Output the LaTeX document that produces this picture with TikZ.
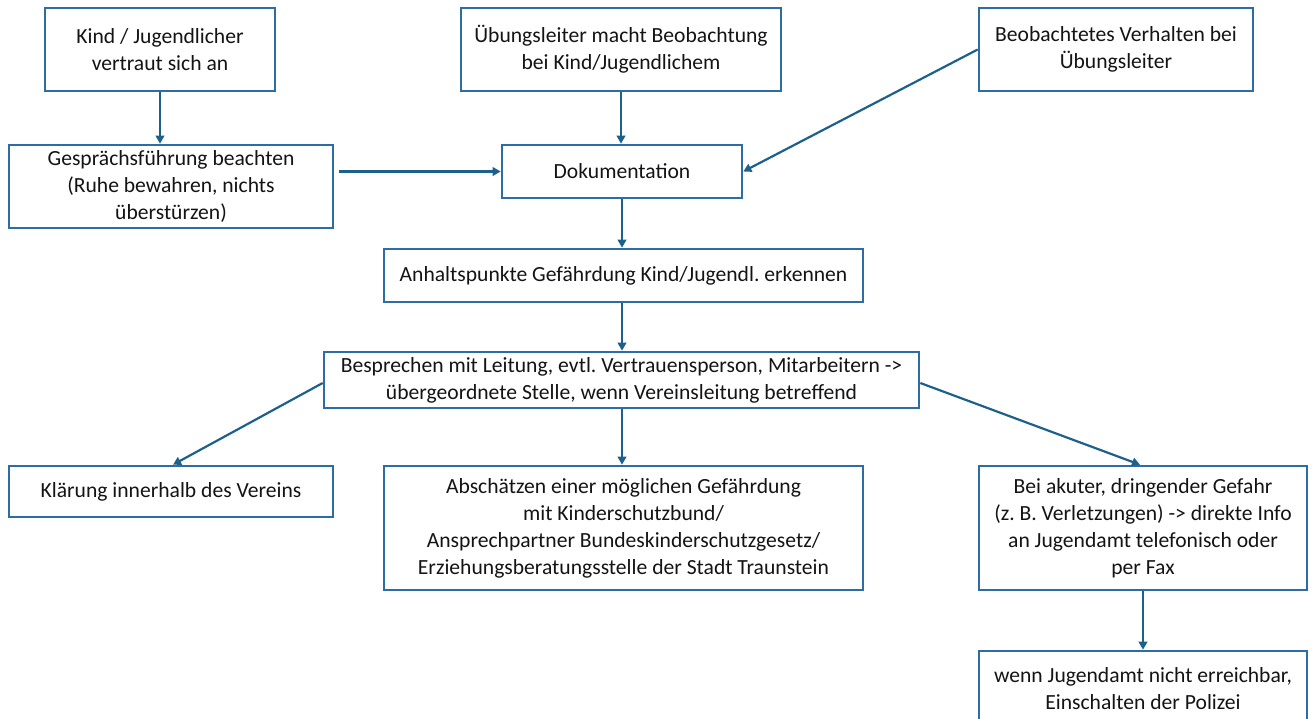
\documentclass[tikz,border=0pt]{standalone}
\usepackage{fontspec}
\setmainfont{Carlito}
\usetikzlibrary{arrows.meta}
\definecolor{boxblue}{RGB}{46,108,165}
\definecolor{arrblue}{RGB}{30,96,140}
\definecolor{txt}{RGB}{20,20,20}
\tikzset{
  box/.style={draw=boxblue, line width=2.6pt, fill=white, inner sep=0pt, align=center,
    text=txt, font=\fontsize{21.6}{27}\selectfont},
  conn/.style={draw=arrblue, line width=2.2pt, -{Triangle[length=8pt,width=8.5pt]}}
}
\frenchspacing
\begin{document}
\begin{tikzpicture}[x=1pt,y=-1pt]
\useasboundingbox (0,0) rectangle (1313,718);
\node[box, minimum width=230pt, minimum height=83pt] (n1) at (160,49.5) {Kind / Jugendlicher\\vertraut sich an};
\node[box, minimum width=320pt, minimum height=83pt] (n2) at (621,49.5) {Übungsleiter macht Beobachtung\\bei Kind/Jugendlichem};
\node[box, minimum width=274pt, minimum height=83pt] (n3) at (1116,49.5) {Beobachtetes Verhalten bei\\Übungsleiter};
\node[box, minimum width=324pt, minimum height=83pt] (n4) at (171,186.5) {Gesprächsführung beachten\\(Ruhe bewahren, nichts\\überstürzen)};
\node[box, minimum width=240pt, minimum height=53pt] (n5) at (622,171.5) {Dokumentation};
\node[box, minimum width=479pt, minimum height=53pt] (n6) at (623.5,275.5) {Anhaltspunkte Gefährdung Kind/Jugendl. erkennen};
\node[box, minimum width=595pt, minimum height=56pt] (n7) at (621.5,380) {Besprechen mit Leitung, evtl. Vertrauensperson, Mitarbeitern ->\\übergeordnete Stelle, wenn Vereinsleitung betreffend};
\node[box, minimum width=324pt, minimum height=51pt] (n8) at (171,491.5) {Klärung innerhalb des Vereins};
\node[box, minimum width=479pt, minimum height=124pt] (n9) at (623.5,528) {Abschätzen einer möglichen Gefährdung\\mit Kinderschutzbund/\\Ansprechpartner Bundeskinderschutzgesetz/\\Erziehungsberatungsstelle der Stadt Traunstein};
\node[box, minimum width=328pt, minimum height=124pt] (n10) at (1143,528) {Bei akuter, dringender Gefahr\\(z. B. Verletzungen) -> direkte Info\\an Jugendamt telefonisch oder\\per Fax};
\node[box, minimum width=328pt, minimum height=76pt] (n11) at (1143,689) {wenn Jugendamt nicht erreichbar,\\Einschalten der Polizei};
\coordinate (s4) at (339,171.5);
\draw[conn] (n1.south) -- (n1.south |- n4.north);
\draw[conn] (n2.south) -- (n2.south |- n5.north);
\draw[conn] (n3.west) -- (n5.east);
\draw[conn] (s4) -- (n5.west);
\draw[conn] (n5.south) -- (n6.north -| n5.south);
\draw[conn] (n6.south -| n5.south) -- (n7.north -| n5.south);
\draw[conn] ([yshift=-3pt]n7.west) -- ([xshift=2pt]n8.north);
\draw[conn] (n7.south -| n5.south) -- (n9.north -| n5.south);
\draw[conn] ([yshift=-3pt]n7.east) -- ([xshift=-3pt]n10.north);
\draw[conn] (n10.south) -- (n11.north);
\end{tikzpicture}
\end{document}
